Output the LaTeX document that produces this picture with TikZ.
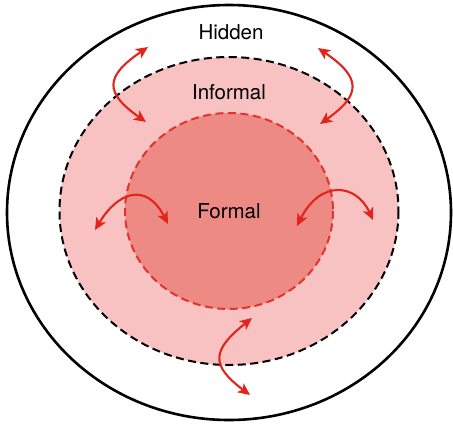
\documentclass[tikz,border=0pt]{standalone}
\usepackage{fontspec}
\setmainfont{TeX Gyre Heros}
\usetikzlibrary{arrows.meta}
\definecolor{innerfill}{HTML}{EE8A84}
\definecolor{midfill}{HTML}{F7C2C1}
\definecolor{arrred}{HTML}{E2241C}
\definecolor{innerline}{HTML}{E0342C}
\tikzset{
  outerring/.style={draw=black, line width=2.6pt},
  midring/.style={draw=black, fill=midfill, line width=2pt, dash pattern=on 8pt off 4.5pt},
  innerring/.style={draw=innerline, fill=innerfill, line width=2pt, dash pattern=on 8pt off 4.5pt},
  flow/.style={draw=arrred, line width=2.1pt, {Stealth[length=12pt,width=11pt,inset=3pt]}-{Stealth[length=12pt,width=11pt,inset=3pt]}},
  lbl/.style={font=\fontsize{20.5}{24}\selectfont, text=black, inner sep=0pt}
}
\begin{document}
\begin{tikzpicture}[x=1pt,y=-1pt]
\useasboundingbox (0,0) rectangle (453,424);
% rings
\draw[outerring] (229,212.5) ellipse [x radius=222, y radius=207.5];
\draw[midring] (229,211) ellipse [x radius=169.5, y radius=154];
\draw[innerring] (229,211) ellipse [x radius=104, y radius=98];
% labels
\node[lbl] (hidden) at (231,32) {Hidden};
\node[lbl] (informal) at (229,92) {Informal};
\node[lbl] (formal) at (229,211) {Formal};
% arrow ends
\coordinate (a1) at (148,47);  \coordinate (b1) at (146,122);
\coordinate (a2) at (318,48);  \coordinate (b2) at (320,124);
\coordinate (a3) at (95,230);  \coordinate (b3) at (168,224);
\coordinate (a4) at (297,226); \coordinate (b4) at (373,220);
\coordinate (a5) at (252,318); \coordinate (b5) at (250,395);
% arrows
\draw[flow] (a1) .. controls (104,77) and (105,93) .. (b1);
\draw[flow] (a2) .. controls (362,78) and (361,95) .. (b2);
\draw[flow] (a3) .. controls (117,193) and (146,181) .. (b3);
\draw[flow] (a4) .. controls (320,180) and (356,183) .. (b4);
\draw[flow] (a5) .. controls (212,350) and (210,365) .. (b5);
\end{tikzpicture}
\end{document}
